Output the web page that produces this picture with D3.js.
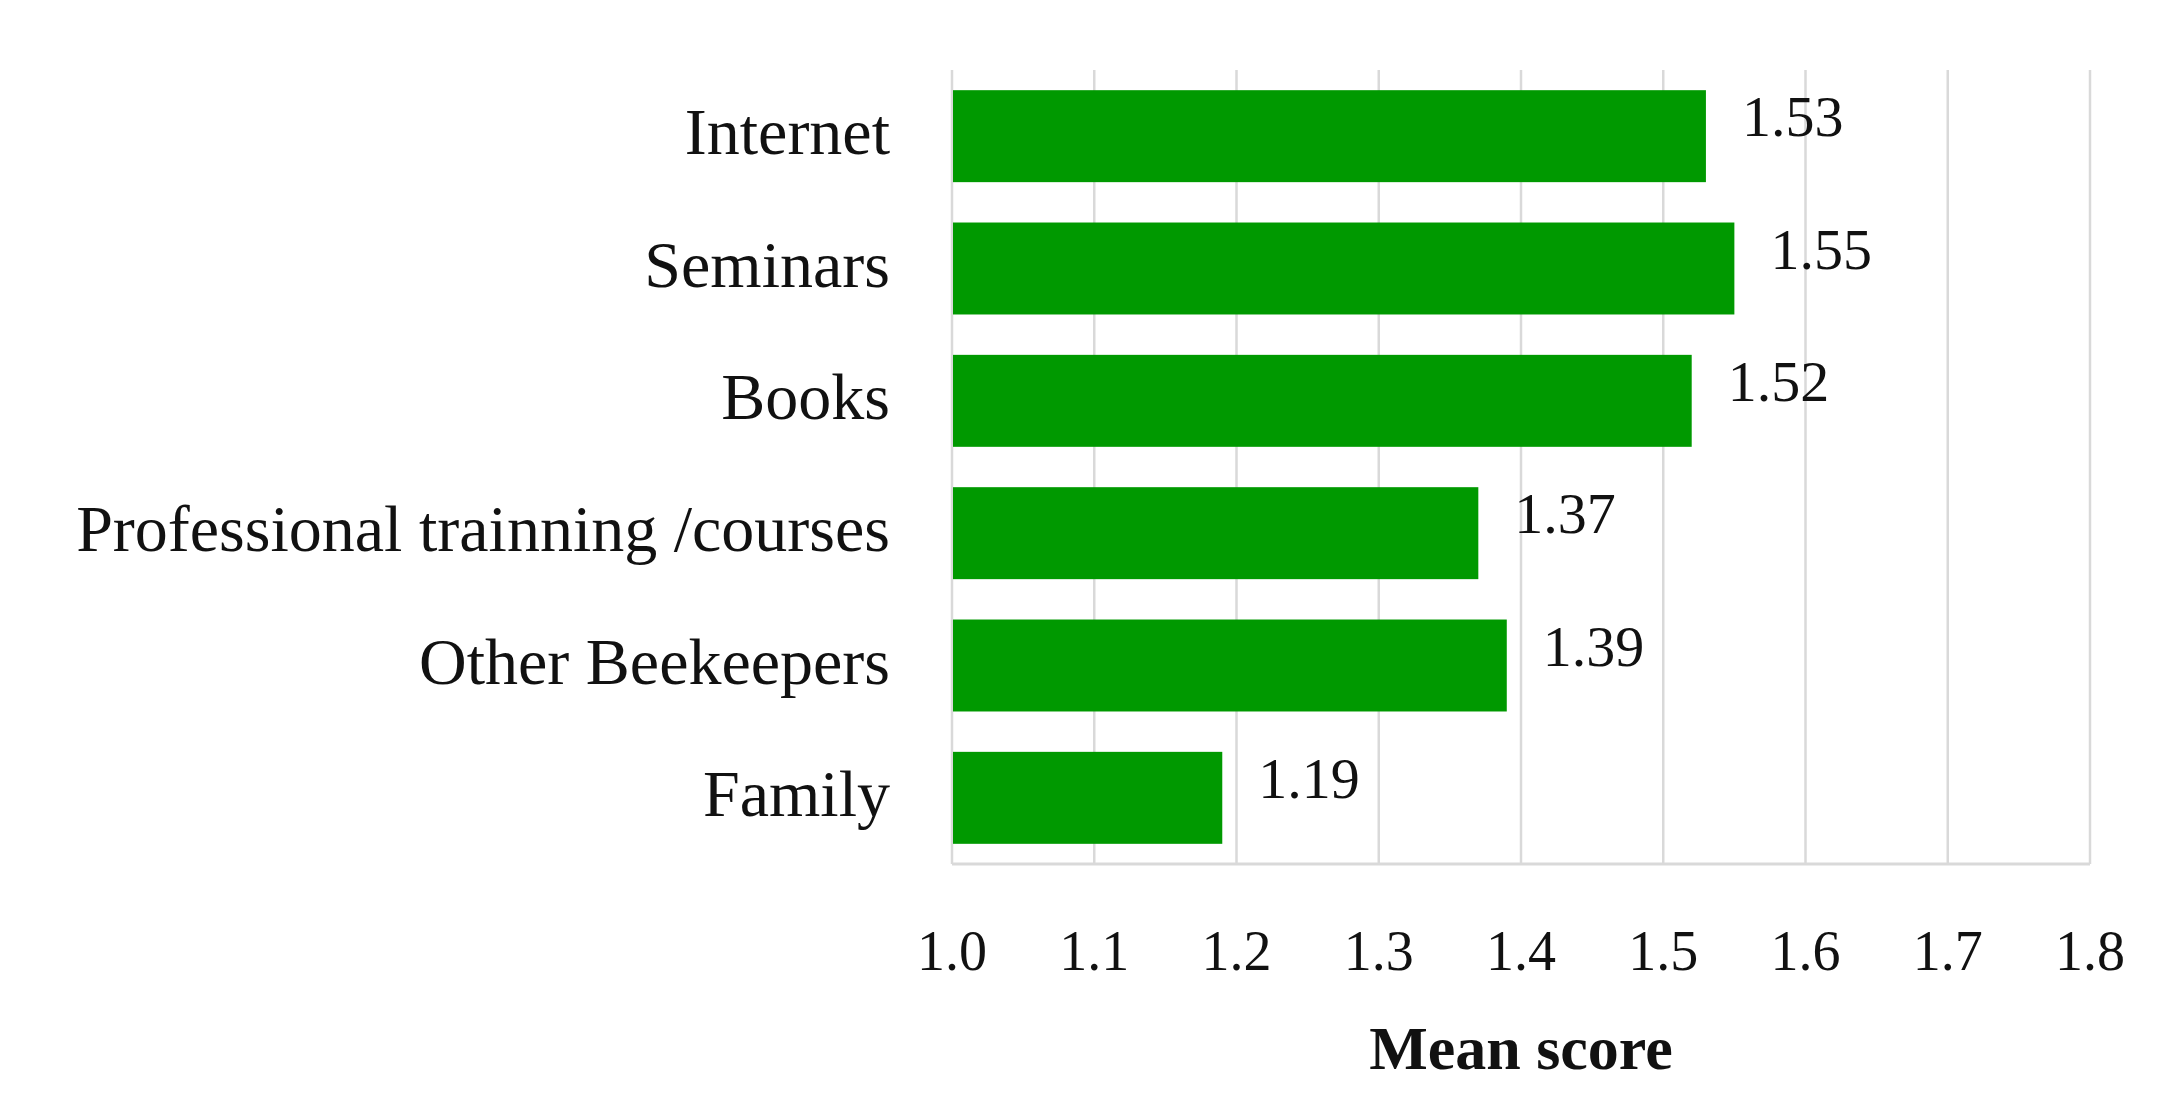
<!DOCTYPE html>
<html>
<head>
<meta charset="utf-8">
<script src="https://cdn.jsdelivr.net/npm/d3@7"></script>
<style>
  html, body { margin: 0; padding: 0; background: #fff; }
  svg { display: block; }
</style>
</head>
<body>
<svg id="chart" width="2157" height="1113"></svg>
<script>
const categories = ["Internet", "Seminars", "Books", "Professional trainning /courses", "Other Beekeepers", "Family"];
const meanScores = [1.53, 1.55, 1.52, 1.37, 1.39, 1.19];
const tickValues = [1.0, 1.1, 1.2, 1.3, 1.4, 1.5, 1.6, 1.7, 1.8];
const axisTitle = "Mean score";

const svg = d3.select("#chart");
const margin = { left: 952, right: 2157 - 2090, top: 70, bottom: 1113 - 864 };
const W = 2157, H = 1113;

const x = d3.scaleLinear().domain([1.0, 1.8]).range([margin.left, W - margin.right]);
const y = d3.scaleBand().domain(categories).range([margin.top, H - margin.bottom]).paddingInner(0.305).paddingOuter(0.1525);

const serif = "'Liberation Serif', 'Times New Roman', serif";
const grid = "#d9d9d9";

// gridlines
svg.append("g").selectAll("line").data(tickValues).join("line")
  .attr("x1", d => x(d)).attr("x2", d => x(d))
  .attr("y1", margin.top).attr("y2", H - margin.bottom)
  .attr("stroke", grid).attr("stroke-width", 2.5);

// bottom axis line
svg.append("line")
  .attr("x1", x(1.0)).attr("x2", x(1.8))
  .attr("y1", H - margin.bottom).attr("y2", H - margin.bottom)
  .attr("stroke", grid).attr("stroke-width", 3);

// bars
svg.append("g").selectAll("rect").data(categories).join("rect")
  .attr("x", x(1.0) + 1)
  .attr("y", d => y(d))
  .attr("width", (d, i) => x(meanScores[i]) - x(1.0) - 1)
  .attr("height", y.bandwidth())
  .attr("fill", "#009900");

// value labels
svg.append("g").selectAll("text").data(categories).join("text")
  .attr("x", (d, i) => x(meanScores[i]) + 36)
  .attr("y", d => y(d) + y.bandwidth() / 2)
  .attr("font-family", serif).attr("font-size", 58).attr("fill", "#111")
  .text((d, i) => meanScores[i].toFixed(2));

// category labels
svg.append("g").selectAll("text").data(categories).join("text")
  .attr("x", 890)
  .attr("y", d => y(d) + y.bandwidth() / 2 + 18)
  .attr("text-anchor", "end")
  .attr("font-family", serif).attr("font-size", 66).attr("fill", "#111")
  .text(d => d);

// tick labels
svg.append("g").selectAll("text").data(tickValues).join("text")
  .attr("x", d => x(d))
  .attr("y", 970)
  .attr("text-anchor", "middle")
  .attr("font-family", serif).attr("font-size", 56).attr("fill", "#111")
  .text(d => d3.format(".1f")(d));

// axis title
svg.append("text")
  .attr("x", (x(1.0) + x(1.8)) / 2)
  .attr("y", 1069)
  .attr("text-anchor", "middle")
  .attr("font-family", serif).attr("font-size", 62).attr("font-weight", "bold").attr("fill", "#111")
  .text(axisTitle);
</script>
</body>
</html>
